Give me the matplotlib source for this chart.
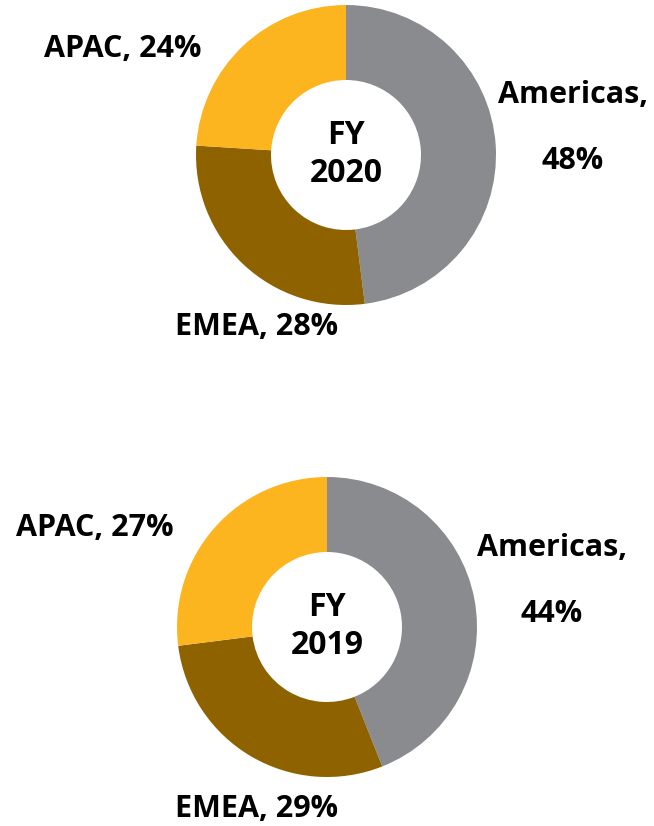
import matplotlib
matplotlib.use("Agg")
import matplotlib.pyplot as plt

regions = ["Americas", "EMEA", "APAC"]
share_2020 = [48, 28, 24]
share_2019 = [44, 29, 27]
colors = ["#8A8B8E", "#8F6200", "#FDB51F"]

plt.rcParams["font.family"] = ["Open Sans", "DejaVu Sans"]

W, H = 654, 826
fig = plt.figure(figsize=(W / 100, H / 100), dpi=100)
ax = fig.add_axes([0, 0, 1, 1])
ax.axis("off")

fs = 22
fs_center = 23


def px(x, y):
    """Pixel position measured from the top-left corner to data coordinates."""
    return (x, H - y)


def put(x, y, s, size):
    ax.text(*px(x, y), s, ha="center", va="baseline",
            fontsize=size, fontweight="bold", color="black")


def donut(values, center, year, label_pos):
    ax.pie(values, colors=colors, startangle=90, counterclock=False,
           center=px(*center), radius=150,
           wedgeprops=dict(width=75, edgecolor="none"))
    cx, cy = center
    put(cx, cy - 11, "FY", fs_center)
    put(cx, cy + 27, str(year), fs_center)
    for name, v in zip(regions, values):
        x, y = label_pos[name]
        if name == "Americas":
            put(x, y, f"{name},", fs)
            put(x, y + 66, f"{v}%", fs)
        else:
            put(x, y, f"{name}, {v}%", fs)


donut(share_2020, (346, 155), 2020,
      {"Americas": (573, 103), "EMEA": (257, 335), "APAC": (123, 57)})
donut(share_2019, (327, 627), 2019,
      {"Americas": (552, 556), "EMEA": (257, 817), "APAC": (95, 536)})

ax.set_xlim(0, W)
ax.set_ylim(0, H)
ax.set_aspect("equal")
fig.savefig("out.png", dpi=100)
